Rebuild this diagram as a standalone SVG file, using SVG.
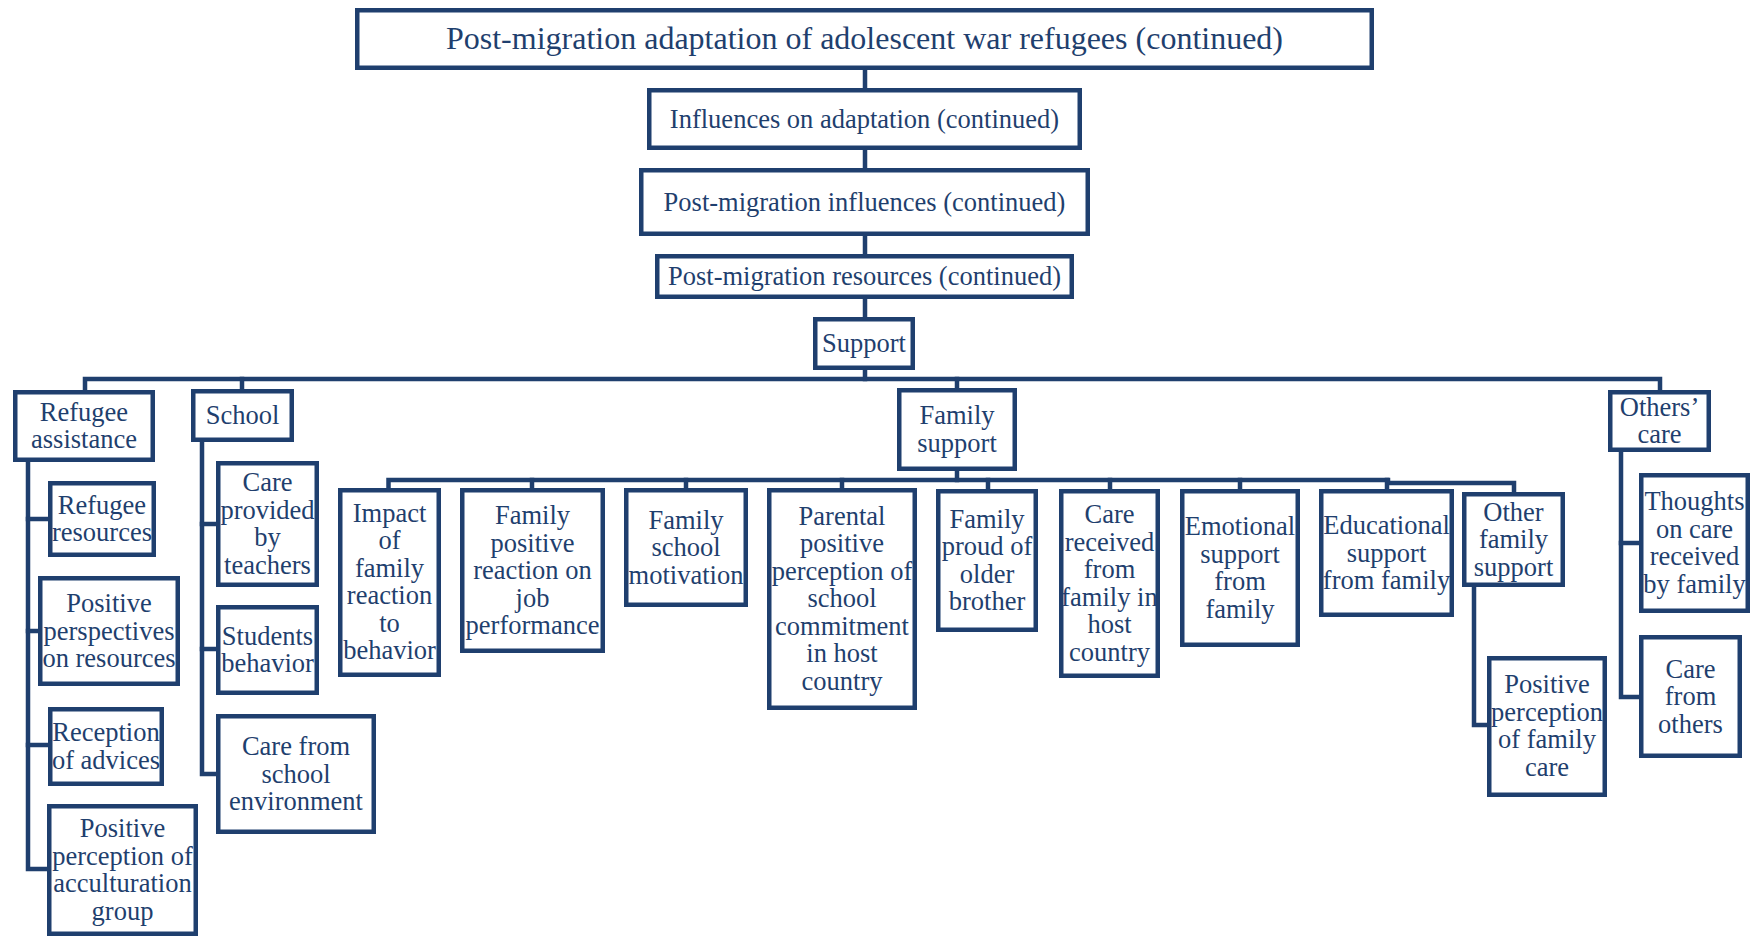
<svg xmlns="http://www.w3.org/2000/svg" width="1757" height="936" viewBox="0 0 1757 936">
  <style>
    .box { fill: #ffffff; stroke: #1f3f6e; stroke-width: 4.5; }
    .wire { fill: none; stroke: #1f3f6e; stroke-width: 4.5; stroke-linejoin: miter; stroke-linecap: square; }
    .lbl { font-family: "Liberation Serif", "Times New Roman", serif; font-size: 26.5px; fill: #1f3f6e; text-anchor: middle; }
    .ttl { font-size: 32px; }
  </style>
  <rect width="1757" height="936" fill="#ffffff"/>

  <!-- connectors -->
  <g id="connectors" class="wire">
    <!-- trunk -->
    <path d="M865 70 V379"/>
    <!-- main bus and drops -->
    <path d="M85 390 V379 H1660 V390"/>
    <path d="M242 379 V389"/>
    <path d="M957 379 V388"/>
    <!-- refugee assistance branch -->
    <path d="M28 462 V869 H47"/>
    <path d="M28 519 H48"/>
    <path d="M28 631 H38"/>
    <path d="M28 745 H48"/>
    <!-- school branch -->
    <path d="M202 442 V774 H216"/>
    <path d="M202 524 H216"/>
    <path d="M202 649 H216"/>
    <!-- family support bus -->
    <path d="M957 471 V480"/>
    <path d="M388.5 488 V480 H1388 V483 H1514 V492"/>
    <path d="M532 480 V488"/>
    <path d="M686 480 V488"/>
    <path d="M842 480 V488"/>
    <path d="M988 480 V489"/>
    <path d="M1110 480 V489"/>
    <path d="M1240 480 V489"/>
    <path d="M1387 480 V489"/>
    <!-- other family support branch -->
    <path d="M1474 587 V725 H1487"/>
    <!-- others' care branch -->
    <path d="M1621 452 V697 H1639"/>
    <path d="M1621 543 H1639"/>
  </g>

  <!-- header chain -->
  <g id="n-title">
    <rect class="box" x="357.25" y="10.25" width="1014.5" height="57.5"/>
    <text class="lbl ttl" x="864.5" y="48.5">Post-migration adaptation of adolescent war refugees (continued)</text>
  </g>
  <g id="n-influences">
    <rect class="box" x="649.25" y="90.25" width="430.5" height="57.5"/>
    <text class="lbl" x="864.5" y="127.5">Influences on adaptation (continued)</text>
  </g>
  <g id="n-postmig-influences">
    <rect class="box" x="641.25" y="170.25" width="446.5" height="63.5"/>
    <text class="lbl" x="864.5" y="210.5">Post-migration influences (continued)</text>
  </g>
  <g id="n-postmig-resources">
    <rect class="box" x="657.25" y="256.25" width="414.5" height="40.5"/>
    <text class="lbl" x="864.5" y="285">Post-migration resources (continued)</text>
  </g>
  <g id="n-support">
    <rect class="box" x="815.25" y="319.25" width="97.5" height="48.5"/>
    <text class="lbl" x="864" y="352">Support</text>
  </g>

  <!-- second level -->
  <g id="n-refugee-assistance">
    <rect class="box" x="15.25" y="392.25" width="137.5" height="67.5"/>
    <text class="lbl" x="84" y="420.75"><tspan x="84">Refugee</tspan><tspan x="84" dy="27.5">assistance</tspan></text>
  </g>
  <g id="n-school">
    <rect class="box" x="193.25" y="391.25" width="98.5" height="48.5"/>
    <text class="lbl" x="242.5" y="424">School</text>
  </g>
  <g id="n-family-support">
    <rect class="box" x="899.25" y="390.25" width="115.5" height="78.5"/>
    <text class="lbl" x="957" y="424.25"><tspan x="957">Family</tspan><tspan x="957" dy="27.5">support</tspan></text>
  </g>
  <g id="n-others-care">
    <rect class="box" x="1610.25" y="392.25" width="98.5" height="57.5"/>
    <text class="lbl" x="1659.5" y="415.75"><tspan x="1659.5">Others’</tspan><tspan x="1659.5" dy="27.5">care</tspan></text>
  </g>

  <!-- refugee assistance children -->
  <g id="n-refugee-resources">
    <rect class="box" x="50.25" y="483.25" width="103.5" height="71.5"/>
    <text class="lbl" x="102" y="513.75"><tspan x="102">Refugee</tspan><tspan x="102" dy="27.5">resources</tspan></text>
  </g>
  <g id="n-positive-perspectives">
    <rect class="box" x="40.25" y="578.25" width="137.5" height="105.5"/>
    <text class="lbl" x="109" y="612"><tspan x="109">Positive</tspan><tspan x="109" dy="27.5">perspectives</tspan><tspan x="109" dy="27.5">on resources</tspan></text>
  </g>
  <g id="n-reception-advices">
    <rect class="box" x="50.25" y="709.25" width="111.5" height="74.5"/>
    <text class="lbl" x="106" y="741.25"><tspan x="106">Reception</tspan><tspan x="106" dy="27.5">of advices</tspan></text>
  </g>
  <g id="n-acculturation-group">
    <rect class="box" x="49.25" y="806.25" width="146.5" height="127.5"/>
    <text class="lbl" x="122.5" y="837.25"><tspan x="122.5">Positive</tspan><tspan x="122.5" dy="27.5">perception of</tspan><tspan x="122.5" dy="27.5">acculturation</tspan><tspan x="122.5" dy="27.5">group</tspan></text>
  </g>

  <!-- school children -->
  <g id="n-care-teachers">
    <rect class="box" x="218.25" y="463.25" width="98.5" height="121.5"/>
    <text class="lbl" x="267.5" y="491.25"><tspan x="267.5">Care</tspan><tspan x="267.5" dy="27.5">provided</tspan><tspan x="267.5" dy="27.5">by</tspan><tspan x="267.5" dy="27.5">teachers</tspan></text>
  </g>
  <g id="n-students-behavior">
    <rect class="box" x="218.25" y="607.25" width="98.5" height="85.5"/>
    <text class="lbl" x="267.5" y="644.75"><tspan x="267.5">Students</tspan><tspan x="267.5" dy="27.5">behavior</tspan></text>
  </g>
  <g id="n-school-environment">
    <rect class="box" x="218.25" y="716.25" width="155.5" height="115.5"/>
    <text class="lbl" x="296" y="755"><tspan x="296">Care from</tspan><tspan x="296" dy="27.5">school</tspan><tspan x="296" dy="27.5">environment</tspan></text>
  </g>

  <!-- family support children -->
  <g id="n-impact-reaction">
    <rect class="box" x="340.25" y="490.25" width="98.5" height="184.5"/>
    <text class="lbl" x="389.5" y="521.75"><tspan x="389.5">Impact</tspan><tspan x="389.5" dy="27.5">of</tspan><tspan x="389.5" dy="27.5">family</tspan><tspan x="389.5" dy="27.5">reaction</tspan><tspan x="389.5" dy="27.5">to</tspan><tspan x="389.5" dy="27.5">behavior</tspan></text>
  </g>
  <g id="n-job-performance">
    <rect class="box" x="462.25" y="490.25" width="140.5" height="160.5"/>
    <text class="lbl" x="532.5" y="524"><tspan x="532.5">Family</tspan><tspan x="532.5" dy="27.5">positive</tspan><tspan x="532.5" dy="27.5">reaction on</tspan><tspan x="532.5" dy="27.5">job</tspan><tspan x="532.5" dy="27.5">performance</tspan></text>
  </g>
  <g id="n-school-motivation">
    <rect class="box" x="626.25" y="490.25" width="119.5" height="114.5"/>
    <text class="lbl" x="686" y="528.5"><tspan x="686">Family</tspan><tspan x="686" dy="27.5">school</tspan><tspan x="686" dy="27.5">motivation</tspan></text>
  </g>
  <g id="n-parental-perception">
    <rect class="box" x="769.25" y="490.25" width="145.5" height="217.5"/>
    <text class="lbl" x="842" y="524.5"><tspan x="842">Parental</tspan><tspan x="842" dy="27.5">positive</tspan><tspan x="842" dy="27.5">perception of</tspan><tspan x="842" dy="27.5">school</tspan><tspan x="842" dy="27.5">commitment</tspan><tspan x="842" dy="27.5">in host</tspan><tspan x="842" dy="27.5">country</tspan></text>
  </g>
  <g id="n-proud-brother">
    <rect class="box" x="938.25" y="491.25" width="97.5" height="138.5"/>
    <text class="lbl" x="987" y="527.75"><tspan x="987">Family</tspan><tspan x="987" dy="27.5">proud of</tspan><tspan x="987" dy="27.5">older</tspan><tspan x="987" dy="27.5">brother</tspan></text>
  </g>
  <g id="n-care-received">
    <rect class="box" x="1061.25" y="491.25" width="96.5" height="184.5"/>
    <text class="lbl" x="1109.5" y="523.25"><tspan x="1109.5">Care</tspan><tspan x="1109.5" dy="27.5">received</tspan><tspan x="1109.5" dy="27.5">from</tspan><tspan x="1109.5" dy="27.5">family in</tspan><tspan x="1109.5" dy="27.5">host</tspan><tspan x="1109.5" dy="27.5">country</tspan></text>
  </g>
  <g id="n-emotional-support">
    <rect class="box" x="1182.25" y="491.25" width="115.5" height="153.5"/>
    <text class="lbl" x="1240" y="535.25"><tspan x="1240">Emotional</tspan><tspan x="1240" dy="27.5">support</tspan><tspan x="1240" dy="27.5">from</tspan><tspan x="1240" dy="27.5">family</tspan></text>
  </g>
  <g id="n-educational-support">
    <rect class="box" x="1321.25" y="491.25" width="130.5" height="123.5"/>
    <text class="lbl" x="1386.5" y="534"><tspan x="1386.5">Educational</tspan><tspan x="1386.5" dy="27.5">support</tspan><tspan x="1386.5" dy="27.5">from family</tspan></text>
  </g>
  <g id="n-other-family-support">
    <rect class="box" x="1464.25" y="494.25" width="98.5" height="90.5"/>
    <text class="lbl" x="1513.5" y="520.5"><tspan x="1513.5">Other</tspan><tspan x="1513.5" dy="27.5">family</tspan><tspan x="1513.5" dy="27.5">support</tspan></text>
  </g>
  <g id="n-family-care-perception">
    <rect class="box" x="1489.25" y="658.25" width="115.5" height="136.5"/>
    <text class="lbl" x="1547" y="693.25"><tspan x="1547">Positive</tspan><tspan x="1547" dy="27.5">perception</tspan><tspan x="1547" dy="27.5">of family</tspan><tspan x="1547" dy="27.5">care</tspan></text>
  </g>

  <!-- others' care children -->
  <g id="n-thoughts-care">
    <rect class="box" x="1641.25" y="475.25" width="106.5" height="135.5"/>
    <text class="lbl" x="1694.5" y="510.25"><tspan x="1694.5">Thoughts</tspan><tspan x="1694.5" dy="27.5">on care</tspan><tspan x="1694.5" dy="27.5">received</tspan><tspan x="1694.5" dy="27.5">by family</tspan></text>
  </g>
  <g id="n-care-others">
    <rect class="box" x="1641.25" y="637.25" width="98.5" height="118.5"/>
    <text class="lbl" x="1690.5" y="677.5"><tspan x="1690.5">Care</tspan><tspan x="1690.5" dy="27.5">from</tspan><tspan x="1690.5" dy="27.5">others</tspan></text>
  </g>
</svg>
